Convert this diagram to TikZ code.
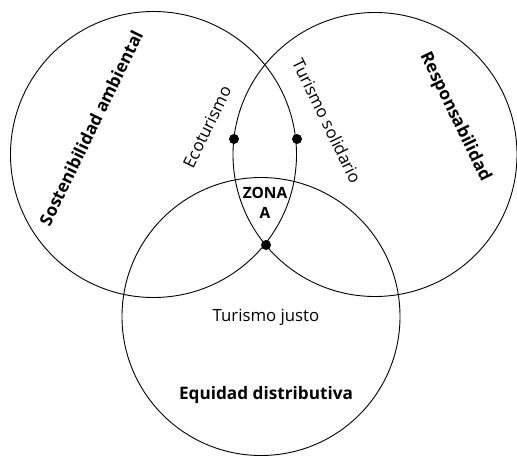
\documentclass[tikz,border=0pt]{standalone}
\usepackage{fontspec}
\setmainfont{Open Sans}
\begin{document}
\begin{tikzpicture}[x=1pt,y=-1pt,
  circ/.style={draw, line width=0.9pt, circle},
  dotm/.style={circle, fill, inner sep=0pt, minimum size=10pt},
  lab/.style={font=\fontsize{16.8}{19}\selectfont, inner sep=0pt},
  blab/.style={font=\fontsize{17.2}{20}\selectfont\bfseries, inner sep=0pt}]
\useasboundingbox (0,0) rectangle (517,458);
\node[circ, minimum size=286pt] (L) at (153.5,154.5) {};
\node[circ, minimum size=284pt] (R) at (375,154.5) {};
\node[circ, minimum size=278pt] (B) at (261,316.5) {};
\node[dotm] (d1) at (234,139) {};
\node[dotm] (d2) at (297,139) {};
\node[dotm] (d3) at (266,245) {};
\node[blab, rotate=64] (sa) at (91,128) {Sostenibilidad ambiental};
\node[lab, rotate=64] (eco) at (207,127) {Ecoturismo};
\node[lab, rotate=-64] (ts) at (327,121) {Turismo solidario};
\node[blab, rotate=-64] (resp) at (455,117) {Responsabilidad};
\node[align=center, inner sep=0pt, font=\fontsize{15.5}{20}\selectfont\bfseries] (za) at (265,203) {ZONA\\A};
\node[lab] (tj) at (266,317) {Turismo justo};
\node[blab] (ed) at (266,395) {Equidad distributiva};
\end{tikzpicture}
\end{document}
